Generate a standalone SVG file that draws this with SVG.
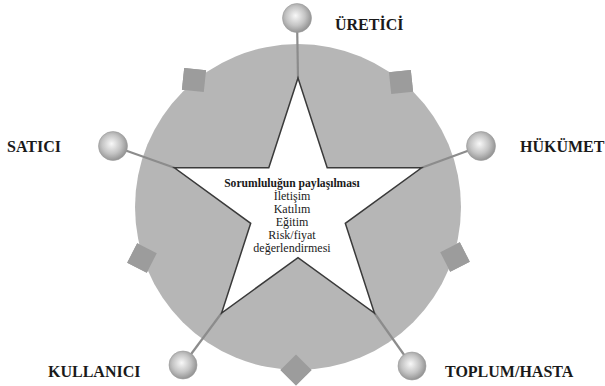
<svg xmlns="http://www.w3.org/2000/svg" width="605" height="386" viewBox="0 0 605 386">
<defs>
<radialGradient id="ballg" cx="0.45" cy="0.45" r="0.6" fx="0.45" fy="0.42">
<stop offset="0" stop-color="#f8f8f8"/>
<stop offset="0.55" stop-color="#c4c4c4"/>
<stop offset="1" stop-color="#8a8a8a"/>
</radialGradient>
<rect id="sq" x="-11" y="-11" width="22" height="22"/>
</defs>
<style>
.disk{fill:#b6b6b6;}
.sq{fill:#9c9c9c;}
.conn line{stroke:#8c8c8c;stroke-width:2.2;}
.star{fill:#ffffff;stroke:#3a3a3a;stroke-width:1.5;stroke-linejoin:miter;}
.ball{fill:url(#ballg);stroke:#9a9a9a;stroke-width:0.6;}
.lbl{font-family:"Liberation Serif","Times New Roman",serif;font-weight:bold;font-size:16px;fill:#1a1a1a;}
.ctr{font-family:"Liberation Serif","Times New Roman",serif;font-size:12px;fill:#1a1a1a;text-anchor:middle;}
.ctrb{font-weight:bold;font-size:11.6px;}
</style>
<g id="disk">
<use href="#sq" class="sq" transform="translate(194,80) rotate(186)"/>
<use href="#sq" class="sq" transform="translate(401,82) rotate(264)"/>
<use href="#sq" class="sq" transform="translate(142,258) rotate(117)"/>
<use href="#sq" class="sq" transform="translate(455,257) rotate(-27)"/>
<use href="#sq" class="sq" transform="translate(296,370) rotate(45)"/>
<circle class="disk" cx="298" cy="207" r="163"/>
<use href="#sq" class="sq" transform="translate(194,80) rotate(186)"/>
<use href="#sq" class="sq" transform="translate(401,82) rotate(264)"/>
<use href="#sq" class="sq" transform="translate(142,258) rotate(117)"/>
<use href="#sq" class="sq" transform="translate(455,257) rotate(-27)"/>
<use href="#sq" class="sq" transform="translate(296,370) rotate(45)"/>
</g>
<g id="connectors" class="conn">
<line x1="297" y1="18" x2="298" y2="78"/>
<line x1="113" y1="146" x2="174.4" y2="167.8"/>
<line x1="481" y1="146" x2="421.6" y2="167.8"/>
<line x1="183" y1="365" x2="221.6" y2="313"/>
<line x1="412" y1="366" x2="374.4" y2="313"/>
</g>
<g id="star">
<polygon class="star" points="298,78 327.2,167.8 421.6,167.8 345.3,223.3 374.4,313 298,257.7 221.6,313 250.7,223.3 174.4,167.8 268.8,167.8"/>
<text class="ctr ctrb" x="292" y="187">Sorumluluğun paylaşılması</text>
<text class="ctr" x="292" y="200">İletişim</text>
<text class="ctr" x="292" y="213">Katılım</text>
<text class="ctr" x="292" y="226">Eğitim</text>
<text class="ctr" x="292" y="239">Risk/fiyat</text>
<text class="ctr" x="292" y="252">değerlendirmesi</text>
</g>
<g id="uretici">
<circle class="ball" cx="297" cy="18" r="14.5"/>
<text class="lbl" x="335" y="30">ÜRETİCİ</text>
</g>
<g id="satici">
<circle class="ball" cx="113" cy="146" r="14.5"/>
<text class="lbl" x="7" y="152">SATICI</text>
</g>
<g id="hukumet">
<circle class="ball" cx="481" cy="146" r="14.5"/>
<text class="lbl" x="520" y="152">HÜKÜMET</text>
</g>
<g id="kullanici">
<circle class="ball" cx="183" cy="365" r="14"/>
<text class="lbl" x="48" y="377">KULLANICI</text>
</g>
<g id="toplum">
<circle class="ball" cx="412" cy="366" r="14"/>
<text class="lbl" x="445" y="377">TOPLUM/HASTA</text>
</g>
</svg>
